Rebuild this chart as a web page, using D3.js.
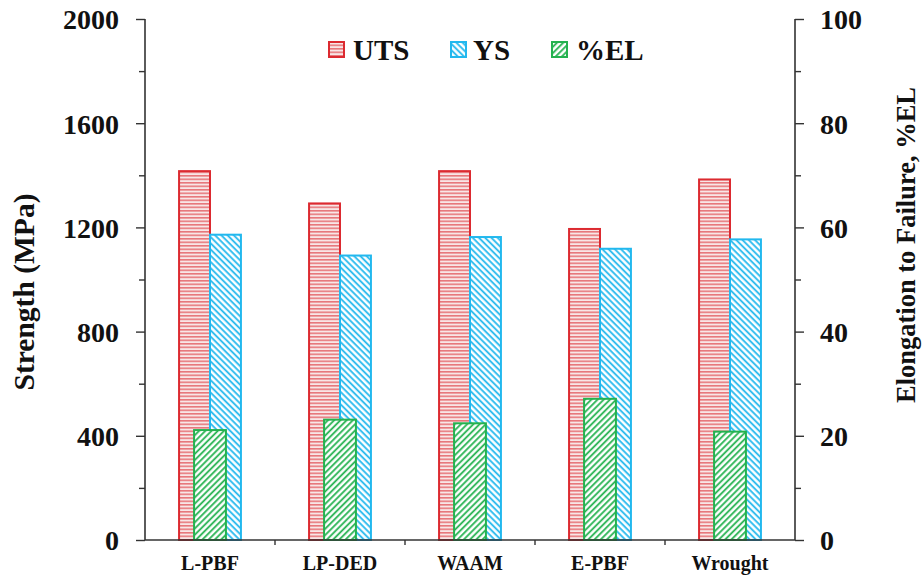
<!DOCTYPE html>
<html>
<head>
<meta charset="utf-8">
<script src="https://cdn.jsdelivr.net/npm/d3@7"></script>
<style>
  html, body { margin: 0; padding: 0; background: #fff; }
  svg text { font-family: "Liberation Serif", "Times New Roman", serif; font-weight: bold; fill: #111; }
</style>
</head>
<body>
<svg id="chart" width="924" height="578"></svg>
<script>
const categories = ["L-PBF", "LP-DED", "WAAM", "E-PBF", "Wrought"];
const utsValues = [1416, 1292, 1416, 1194, 1384];
const ysValues = [1172, 1092, 1163, 1118, 1154];
const elValues = [21.1, 23.1, 22.4, 27.1, 20.8];
const leftTicks = [0, 400, 800, 1200, 1600, 2000];
const rightTicks = [0, 20, 40, 60, 80, 100];
const seriesNames = ["UTS", "YS", "%EL"];

const svg = d3.select("#chart");
const margin = { left: 145, right: 795, top: 19, bottom: 540 };

const x = d3.scaleBand().domain(categories).range([margin.left, margin.right]).paddingInner(0).paddingOuter(0);
const yL = d3.scaleLinear().domain([0, 2000]).range([margin.bottom, margin.top]);
const yR = d3.scaleLinear().domain([0, 100]).range([margin.bottom, margin.top]);

const red = "#dc2a30", blue = "#22b8ee", green = "#24b24f";

// patterns
const defs = svg.append("defs");
const pUts = defs.append("pattern").attr("id", "pUts").attr("patternUnits", "userSpaceOnUse")
  .attr("width", 8).attr("height", 3.5);
pUts.append("rect").attr("width", 8).attr("height", 3.5).attr("fill", "#f8e6e6");
pUts.append("line").attr("x1", 0).attr("x2", 8).attr("y1", 0.8).attr("y2", 0.8)
  .attr("stroke", red).attr("stroke-width", 1.3).attr("stroke-opacity", 0.72);

const pYs = defs.append("pattern").attr("id", "pYs").attr("patternUnits", "userSpaceOnUse")
  .attr("width", 4.4).attr("height", 4.4).attr("patternTransform", "rotate(45)");
pYs.append("rect").attr("width", 4.4).attr("height", 4.4).attr("fill", "#fff");
pYs.append("line").attr("x1", 0).attr("x2", 4.4).attr("y1", 1.1).attr("y2", 1.1)
  .attr("stroke", blue).attr("stroke-width", 1.8);

const pEl = defs.append("pattern").attr("id", "pEl").attr("patternUnits", "userSpaceOnUse")
  .attr("width", 4.4).attr("height", 4.4).attr("patternTransform", "rotate(-45)");
pEl.append("rect").attr("width", 4.4).attr("height", 4.4).attr("fill", "#fff");
pEl.append("line").attr("x1", 0).attr("x2", 4.4).attr("y1", 1.1).attr("y2", 1.1)
  .attr("stroke", green).attr("stroke-width", 1.8);

const barW = x.bandwidth() * 0.238;
const elW = x.bandwidth() * 0.245;
const cx = c => x(c) + x.bandwidth() / 2;

// UTS bars
svg.append("g").selectAll("rect").data(categories).join("rect")
  .attr("x", (c) => cx(c) - barW)
  .attr("y", (c, i) => yL(utsValues[i]))
  .attr("width", barW)
  .attr("height", (c, i) => yL(0) - yL(utsValues[i]))
  .attr("fill", "url(#pUts)").attr("stroke", red).attr("stroke-width", 2);

// YS bars
svg.append("g").selectAll("rect").data(categories).join("rect")
  .attr("x", (c) => cx(c))
  .attr("y", (c, i) => yL(ysValues[i]))
  .attr("width", barW)
  .attr("height", (c, i) => yL(0) - yL(ysValues[i]))
  .attr("fill", "url(#pYs)").attr("stroke", blue).attr("stroke-width", 2);

// EL bars
svg.append("g").selectAll("rect").data(categories).join("rect")
  .attr("x", (c) => cx(c) - elW / 2)
  .attr("y", (c, i) => yR(elValues[i]))
  .attr("width", elW)
  .attr("height", (c, i) => yR(0) - yR(elValues[i]))
  .attr("fill", "url(#pEl)").attr("stroke", green).attr("stroke-width", 2);

// axes
const axisColor = "#333";
const leftAxis = d3.axisLeft(yL).tickValues(d3.range(0, 2001, 200)).tickSize(9)
  .tickFormat(d => leftTicks.includes(d) ? d : "");
const gL = svg.append("g").attr("transform", `translate(${margin.left},0)`).call(leftAxis);
gL.select(".domain").attr("stroke", axisColor).attr("stroke-width", 1.6).attr("d", `M0,${margin.top}V${margin.bottom}`);
gL.selectAll(".tick line").attr("stroke", axisColor).attr("stroke-width", 1.4)
  .attr("x2", d => leftTicks.includes(d) ? -9 : -6);
gL.selectAll(".tick text").attr("x", -26).attr("font-size", 28).attr("font-family", "Liberation Serif").attr("font-weight", "bold").attr("fill", "#111").attr("dy", "0.35em");

const rightAxis = d3.axisRight(yR).tickValues(d3.range(0, 101, 10)).tickSize(9)
  .tickFormat(d => rightTicks.includes(d) ? d : "");
const gR = svg.append("g").attr("transform", `translate(${margin.right},0)`).call(rightAxis);
gR.select(".domain").attr("stroke", axisColor).attr("stroke-width", 1.6).attr("d", `M0,${margin.top}V${margin.bottom}`);
gR.selectAll(".tick line").attr("stroke", axisColor).attr("stroke-width", 1.4)
  .attr("x2", d => rightTicks.includes(d) ? 9 : 6);
gR.selectAll(".tick text").attr("x", 25).attr("font-size", 28).attr("font-family", "Liberation Serif").attr("font-weight", "bold").attr("fill", "#111").attr("dy", "0.35em");

// bottom axis
const bottomAxis = d3.axisBottom(x).tickSize(0);
const gB = svg.append("g").attr("transform", `translate(0,${margin.bottom})`).call(bottomAxis);
gB.select(".domain").attr("stroke", axisColor).attr("stroke-width", 1.6).attr("d", `M${margin.left},0H${margin.right}`);
gB.selectAll(".tick text").attr("y", 16).attr("font-size", 20).attr("font-family", "Liberation Serif").attr("font-weight", "bold").attr("fill", "#111");
svg.append("g").selectAll("line").data(categories.slice(1)).join("line")
  .attr("x1", c => x(c)).attr("x2", c => x(c))
  .attr("y1", margin.bottom).attr("y2", margin.bottom + 5)
  .attr("stroke", axisColor).attr("stroke-width", 1.4);

// axis titles
svg.append("text").attr("transform", `translate(34,292) rotate(-90)`)
  .attr("text-anchor", "middle").attr("font-size", 29.5).text("Strength (MPa)");
svg.append("text").attr("transform", `translate(915,245) rotate(-90)`)
  .attr("text-anchor", "middle").attr("font-size", 26.5).text("Elongation to Failure, %EL");

// legend
const legendX = [328, 450, 551];
const legendFill = ["url(#pUts)", "url(#pYs)", "url(#pEl)"];
const legendStroke = [red, blue, green];
const lg = svg.append("g").selectAll("g").data(seriesNames).join("g")
  .attr("transform", (d, i) => `translate(${legendX[i]},41)`);
lg.append("rect").attr("x", 1).attr("y", 1).attr("width", 15).attr("height", 15)
  .attr("fill", (d, i) => legendFill[i]).attr("stroke", (d, i) => legendStroke[i]).attr("stroke-width", 2);
lg.append("text").attr("x", (d, i) => i === 1 ? 23 : 25).attr("y", 19).attr("font-size", 29).text(d => d);
</script>
</body>
</html>
